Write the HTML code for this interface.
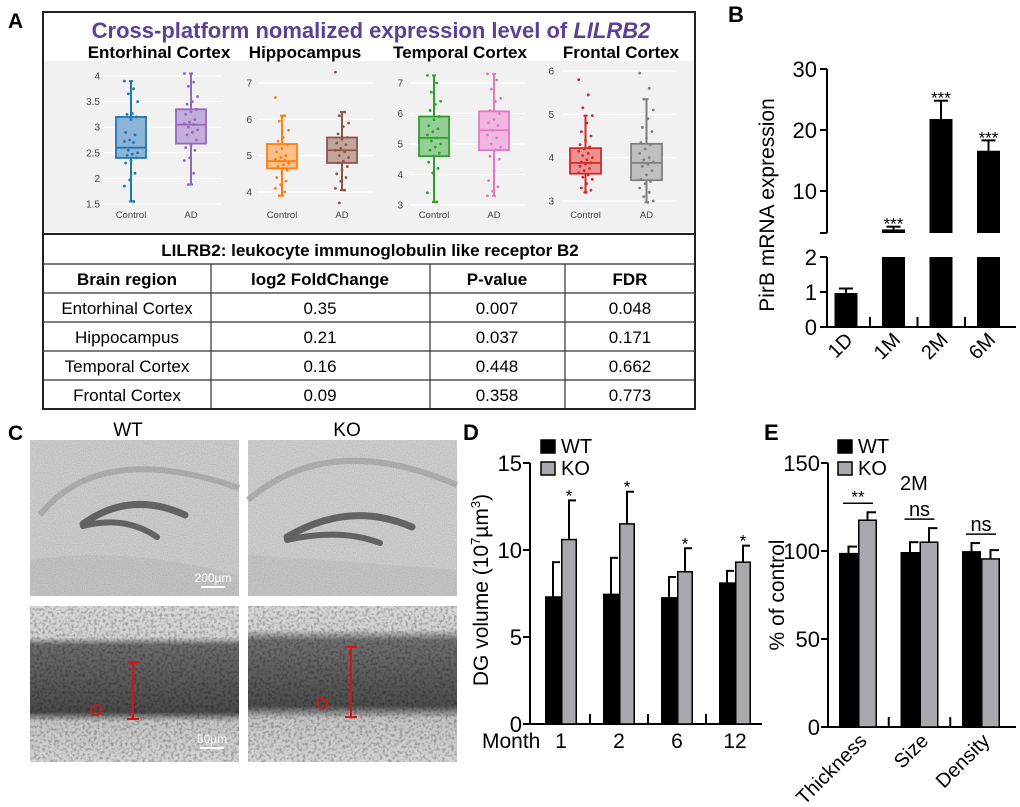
<!DOCTYPE html>
<html><head><meta charset="utf-8">
<style>
html,body{margin:0;padding:0;background:#fff;}
svg{display:block;font-family:"Liberation Sans",Arial,sans-serif;}
</style></head>
<body>
<svg id="fig" width="1020" height="807" viewBox="0 0 1020 807" xmlns="http://www.w3.org/2000/svg">
<defs>
  <filter id="grain" x="0" y="0" width="100%" height="100%">
    <feTurbulence type="fractalNoise" baseFrequency="0.9" numOctaves="2" seed="3"/>
    <feColorMatrix type="matrix" values="0 0 0 0 0  0 0 0 0 0  0 0 0 0 0  0 0 0 -1.6 1.0"/>
  </filter>
  <filter id="cells" x="0" y="0" width="100%" height="100%">
    <feTurbulence type="fractalNoise" baseFrequency="0.35" numOctaves="2" seed="7"/>
    <feColorMatrix type="matrix" values="0 0 0 0 0  0 0 0 0 0  0 0 0 0 0  0 0 0 -3 1.7"/>
  </filter>
  <linearGradient id="bandWT" x1="0" y1="0" x2="0" y2="1">
    <stop offset="0" stop-color="#d8d8d8"/><stop offset="0.2" stop-color="#d2d2d2"/>
    <stop offset="0.25" stop-color="#6a6a6a"/><stop offset="0.68" stop-color="#4a4a4a"/>
    <stop offset="0.74" stop-color="#c4c4c4"/><stop offset="1" stop-color="#d4d4d4"/>
  </linearGradient>
  <linearGradient id="bandKO" x1="0" y1="0" x2="0" y2="1">
    <stop offset="0" stop-color="#d8d8d8"/><stop offset="0.15" stop-color="#d2d2d2"/>
    <stop offset="0.22" stop-color="#6e6e6e"/><stop offset="0.64" stop-color="#4c4c4c"/>
    <stop offset="0.72" stop-color="#c4c4c4"/><stop offset="1" stop-color="#d4d4d4"/>
  </linearGradient>
</defs>

<!-- Panel A -->
<text x="8" y="28" font-size="21" font-weight="bold">A</text>
<g>
  <rect x="43" y="12" width="652" height="397" fill="#fff" stroke="#222" stroke-width="2"/>
  <rect x="44" y="61" width="650" height="171" fill="#f1f1f1"/>
  <line x1="43" y1="234" x2="695" y2="234" stroke="#222" stroke-width="2"/>
  <text x="371" y="38" font-size="22" font-weight="bold" fill="#5e3f93" text-anchor="middle">Cross-platform nomalized expression level of <tspan font-style="italic">LILRB2</tspan></text>
  <g id="boxplots"></g>
  <g font-size="17">
    <text x="370" y="256" text-anchor="middle" font-weight="bold">LILRB2: leukocyte immunoglobulin like receptor B2</text>
    <line x1="43" y1="264" x2="695" y2="264" stroke="#333" stroke-width="1.2"/>
    <line x1="43" y1="293" x2="695" y2="293" stroke="#333" stroke-width="1.2"/>
    <line x1="43" y1="322" x2="695" y2="322" stroke="#333" stroke-width="1.2"/>
    <line x1="43" y1="351" x2="695" y2="351" stroke="#333" stroke-width="1.2"/>
    <line x1="43" y1="380" x2="695" y2="380" stroke="#333" stroke-width="1.2"/>
    <line x1="211" y1="264" x2="211" y2="409" stroke="#333" stroke-width="1.2"/>
    <line x1="430" y1="264" x2="430" y2="409" stroke="#333" stroke-width="1.2"/>
    <line x1="565" y1="264" x2="565" y2="409" stroke="#333" stroke-width="1.2"/>
    <g font-weight="bold" text-anchor="middle">
      <text x="127" y="285">Brain region</text>
      <text x="320" y="285">log2 FoldChange</text>
      <text x="497" y="285">P-value</text>
      <text x="630" y="285">FDR</text>
    </g>
    <g text-anchor="middle">
      <text x="127" y="314">Entorhinal Cortex</text><text x="320" y="314">0.35</text><text x="497" y="314">0.007</text><text x="630" y="314">0.048</text>
      <text x="127" y="343">Hippocampus</text><text x="320" y="343">0.21</text><text x="497" y="343">0.037</text><text x="630" y="343">0.171</text>
      <text x="127" y="372">Temporal Cortex</text><text x="320" y="372">0.16</text><text x="497" y="372">0.448</text><text x="630" y="372">0.662</text>
      <text x="127" y="401">Frontal Cortex</text><text x="320" y="401">0.09</text><text x="497" y="401">0.358</text><text x="630" y="401">0.773</text>
    </g>
  </g>
</g>

<!-- Panel B -->
<text x="728" y="22" font-size="22" font-weight="bold">B</text>
<g id="panelB"></g>

<!-- Panel C -->
<text x="8" y="440" font-size="21" font-weight="bold">C</text>
<g>
  <text x="128" y="436" font-size="19" text-anchor="middle">WT</text>
  <text x="347" y="436" font-size="19" text-anchor="middle">KO</text>
  <g>
    <rect x="30" y="440" width="209" height="156" fill="#cdcdcd"/>
    <path d="M30,560 Q120,545 239,575 L239,596 L30,596Z" fill="#c4c4c4"/>
    <path d="M40,515 Q100,440 239,488" fill="none" stroke="#afafaf" stroke-width="6"/>
    <path d="M83,524 Q130,490 185,515" fill="none" stroke="#666" stroke-width="7" stroke-linecap="round"/>
    <path d="M83,526 Q125,515 157,537" fill="none" stroke="#666" stroke-width="6" stroke-linecap="round"/>
    <rect x="30" y="440" width="209" height="156" filter="url(#grain)" opacity="0.15"/>
    <text x="213" y="582" font-size="12" fill="#fff" text-anchor="middle">200µm</text>
    <line x1="201" y1="587" x2="225" y2="587" stroke="#fff" stroke-width="2"/>
  </g>
  <g>
    <rect x="248" y="440" width="209" height="156" fill="#cecece"/>
    <path d="M248,555 Q330,560 457,570 L457,596 L248,596Z" fill="#c6c6c6"/>
    <path d="M248,500 Q330,430 457,485" fill="none" stroke="#b0b0b0" stroke-width="6"/>
    <path d="M287,537 Q350,500 412,527" fill="none" stroke="#666" stroke-width="7" stroke-linecap="round"/>
    <path d="M287,540 Q340,528 380,543" fill="none" stroke="#666" stroke-width="6" stroke-linecap="round"/>
    <rect x="248" y="440" width="209" height="156" filter="url(#grain)" opacity="0.15"/>
  </g>
  <g>
    <rect x="30" y="606" width="209" height="156" fill="url(#bandWT)"/>
    <rect x="30" y="606" width="209" height="156" filter="url(#cells)" opacity="0.25"/>
    <line x1="133" y1="662" x2="133" y2="719" stroke="#e01010" stroke-width="2"/>
    <line x1="127" y1="662" x2="139" y2="662" stroke="#e01010" stroke-width="2"/>
    <line x1="127" y1="719" x2="139" y2="719" stroke="#e01010" stroke-width="2"/>
    <circle cx="96" cy="710" r="5" fill="none" stroke="#e01010" stroke-width="1.6"/>
    <text x="212" y="743" font-size="12" fill="#fff" text-anchor="middle">50µm</text>
    <line x1="200" y1="748" x2="224" y2="748" stroke="#fff" stroke-width="2"/>
  </g>
  <g>
    <rect x="248" y="606" width="209" height="156" fill="url(#bandKO)"/>
    <rect x="248" y="606" width="209" height="156" filter="url(#cells)" opacity="0.25"/>
    <line x1="351" y1="647" x2="351" y2="717" stroke="#e01010" stroke-width="2"/>
    <line x1="345" y1="647" x2="357" y2="647" stroke="#e01010" stroke-width="2"/>
    <line x1="345" y1="717" x2="357" y2="717" stroke="#e01010" stroke-width="2"/>
    <circle cx="322" cy="703" r="5" fill="none" stroke="#e01010" stroke-width="1.6"/>
  </g>
</g>

<!-- Panel D -->
<text x="463" y="440" font-size="22" font-weight="bold">D</text>
<g id="panelD"></g>
<!-- Panel E -->
<text x="764" y="440" font-size="22" font-weight="bold">E</text>
<g id="panelE"></g>

<script>
// ===== Panel A data =====
const regionNames = ["Entorhinal Cortex","Hippocampus","Temporal Cortex","Frontal Cortex"];
const groupNames = ["Control","AD"];
// [whiskerLow, q1, median, q3, whiskerHigh]
const entStats = [[1.55,2.4,2.6,3.2,3.9],[1.88,2.68,3.05,3.35,4.05]];
const hipStats = [[3.9,4.65,4.85,5.32,6.1],[4.05,4.8,5.15,5.5,6.2]];
const temStats = [[3.1,4.6,5.2,5.9,7.25],[3.3,4.8,5.45,6.07,7.3]];
const froStats = [[3.2,3.63,3.88,4.22,4.97],[2.97,3.48,3.88,4.32,5.35]];
const entPts = [[3.9,3.75,3.65,3.5,3.27,3.25,3.2,3.15,2.9,2.85,2.75,2.72,2.7,2.55,2.5,2.47,2.45,2.4,2.35,2.3,2.1,1.97,1.85,1.55],
                [4.05,3.88,3.8,3.6,3.5,3.45,3.35,3.3,3.25,3.15,3.1,3.07,3.05,3.0,2.95,2.9,2.85,2.75,2.65,2.6,2.55,2.4,2.35,2.1,1.88]];
const hipPts = [[6.6,6.1,5.95,5.7,5.5,5.4,5.3,5.2,5.1,5.0,4.95,4.9,4.87,4.85,4.8,4.75,4.7,4.6,4.5,4.4,4.3,4.2,4.1,4.0,3.9],
                [7.3,6.2,6.1,5.9,5.8,5.6,5.5,5.45,5.35,5.3,5.2,5.15,5.1,5.0,4.95,4.85,4.8,4.7,4.6,4.5,4.4,4.3,4.1,4.05,3.7]];
const temPts = [[7.25,7.0,6.7,6.4,6.3,6.1,5.9,5.8,5.6,5.5,5.4,5.3,5.2,5.1,5.0,4.9,4.8,4.7,4.6,4.4,4.2,4.05,3.4,3.1],
                [7.3,7.1,6.8,6.5,6.4,6.1,6.0,5.8,5.7,5.6,5.45,5.3,5.2,5.0,4.9,4.8,4.6,4.5,4.1,3.8,3.6,3.45,3.3]];
const froPts = [[5.8,5.45,5.15,4.97,4.8,4.6,4.5,4.4,4.3,4.25,4.2,4.15,4.1,4.05,4.0,3.95,3.9,3.88,3.85,3.8,3.75,3.7,3.65,3.6,3.55,3.5,3.4,3.3,3.25,3.2],
                [5.95,5.6,5.35,5.1,4.9,4.7,4.6,4.45,4.35,4.3,4.2,4.1,4.0,3.95,3.9,3.85,3.8,3.7,3.6,3.5,3.45,3.4,3.3,3.2,3.1,3.0,2.97]];
const entTicks = [1.5,2,2.5,3,3.5,4];
const hipTicks = [4,5,6,7];
const temTicks = [3,4,5,6,7];
const froTicks = [3,4,5,6];

// ===== Panel B data =====
const bCats = ["1D","1M","2M","6M"];
const bValues = [0.97,3.7,21.8,16.6];
const bErrors = [0.13,0.45,3.0,1.7];
const bStars = ["","***","***","***"];
const bTicksUpper = [10,20,30];
const bTicksLower = [0,1,2];

// ===== Panel D data =====
const dCats = ["1","2","6","12"];
const dWT = [7.3,7.45,7.25,8.1];
const dWTerr = [2.0,2.1,1.2,0.7];
const dKO = [10.6,11.5,8.75,9.3];
const dKOerr = [2.25,1.85,1.35,0.95];
const dStars = ["*","*","*","*"];
const dTicks = [0,5,10,15];

// ===== Panel E data =====
const eCats = ["Thickness","Size","Density"];
const eWT = [98.5,99,99.5];
const eWTerr = [4,6,5];
const eKO = [117.5,105,95.5];
const eKOerr = [4.5,8,5];
const eSig = ["**","ns","ns"];
const eTicks = [0,50,100,150];

const NS = "http://www.w3.org/2000/svg";
function mk(parent, tag, attrs, text){
  const el = document.createElementNS(NS, tag);
  for (const k in attrs) el.setAttribute(k, attrs[k]);
  if (text !== undefined) el.textContent = text;
  parent.appendChild(el);
  return el;
}

// ===== Panel A drawing =====
const boxRoot = document.getElementById('boxplots');
const subplotDefs = [
  {stats: entStats, pts: entPts, ticks: entTicks, vmin: 1.5, vmax: 4, y0: 204, y1: 76, lab: 100, gx0: 103, gx1: 222, bx: [116,176], bw: 30, tx: 159, cols: ["#1f77b4","#9467bd"], fills:["#8db4d6","#c3aedb"]},
  {stats: hipStats, pts: hipPts, ticks: hipTicks, vmin: 4, vmax: 7, y0: 192, y1: 83, lab: 252, gx0: 258, gx1: 373, bx: [267,327], bw: 30, tx: 305, cols: ["#ff7f0e","#8c564b"], fills:["#ffbf8a","#c4a59e"]},
  {stats: temStats, pts: temPts, ticks: temTicks, vmin: 3, vmax: 7, y0: 205, y1: 83, lab: 403, gx0: 410, gx1: 525, bx: [419,479], bw: 30, tx: 460, cols: ["#2ca02c","#e377c2"], fills:["#95cf95","#f0b8e0"]},
  {stats: froStats, pts: froPts, ticks: froTicks, vmin: 3, vmax: 6, y0: 201, y1: 71, lab: 554, gx0: 563, gx1: 676, bx: [570,631], bw: 31, tx: 621, cols: ["#d62728","#7f7f7f"], fills:["#e99393","#bfbfbf"]}
];
subplotDefs.forEach((sp, si) => {
  const g = mk(boxRoot, 'g', {});
  
  
  const y = v => sp.y0 + (v - sp.vmin) * (sp.y1 - sp.y0) / (sp.vmax - sp.vmin);
  const t = mk(g, 'text', {x: sp.tx, y: 58, 'font-size': 17, 'font-weight': 'bold', 'text-anchor': 'middle'}, regionNames[si]);
  
  
  sp.ticks.forEach(tv => {
    mk(g, 'line', {x1: sp.gx0, x2: sp.gx1, y1: y(tv), y2: y(tv), stroke: '#fff', 'stroke-width': 1.3});
    const tl = mk(g, 'text', {x: sp.lab, y: y(tv) + 3.5, 'font-size': 10, fill: '#444', 'text-anchor': 'end'}, String(tv));
    
    
  });
  sp.stats.forEach((s, gi) => {
    const x0 = sp.bx[gi], cx = x0 + sp.bw / 2, col = sp.cols[gi];
    mk(g, 'line', {x1: cx, x2: cx, y1: y(s[0]), y2: y(s[4]), stroke: col, 'stroke-width': 2});
    mk(g, 'line', {x1: cx-2, x2: cx+2, y1: y(s[0]), y2: y(s[0]), stroke: col, 'stroke-width': 2});
    mk(g, 'line', {x1: cx-2, x2: cx+2, y1: y(s[4]), y2: y(s[4]), stroke: col, 'stroke-width': 2});
    const box = mk(g, 'rect', {x: x0, y: y(s[3]), width: sp.bw, height: y(s[1]) - y(s[3]), fill: sp.fills[gi], stroke: col, 'stroke-width': 1.8});
    
    
    mk(g, 'line', {x1: x0, x2: x0 + sp.bw, y1: y(s[2]), y2: y(s[2]), stroke: col, 'stroke-width': 1.8});
    sp.pts[gi].forEach((v, i) => {
      const off = (((i * 7) % 11) - 5) / 5 * sp.bw * 0.22;
      const p = mk(g, 'circle', {cx: cx + off, cy: y(v), r: 1.4, fill: col});
      
      
    });
    const gl = mk(g, 'text', {x: cx, y: 218, 'font-size': 9.5, fill: '#444', 'text-anchor': 'middle'}, groupNames[gi]);
    
    
  });
});

// ===== Panel B drawing =====
(function(){
  const g = document.getElementById('panelB');
  const ax = 827, yBase = 327;
  const yLow = v => 327 - v * 35;
  const yUp = v => 191 - (v - 10) * 6.1;
  const upBottom = 233;
  const xs = i => 846 + i * 47.5;
  const bw = 23;
  mk(g, 'line', {x1: ax, x2: ax, y1: 69, y2: upBottom, stroke: '#000', 'stroke-width': 2});
  mk(g, 'line', {x1: ax - 7, x2: ax, y1: upBottom, y2: upBottom, stroke: '#000', 'stroke-width': 2});
  mk(g, 'line', {x1: ax, x2: ax, y1: 257, y2: yBase, stroke: '#000', 'stroke-width': 2});
  mk(g, 'line', {x1: ax, x2: 1016, y1: yBase, y2: yBase, stroke: '#000', 'stroke-width': 2});
  bTicksUpper.forEach(t => {
    mk(g, 'line', {x1: ax - 7, x2: ax, y1: yUp(t), y2: yUp(t), stroke: '#000', 'stroke-width': 2});
    const l = mk(g, 'text', {x: ax - 10, y: yUp(t) + 8, 'font-size': 22, 'text-anchor': 'end'}, String(t));
    
    
  });
  bTicksLower.forEach(t => {
    mk(g, 'line', {x1: ax - 7, x2: ax, y1: yLow(t), y2: yLow(t), stroke: '#000', 'stroke-width': 2});
    const l = mk(g, 'text', {x: ax - 10, y: yLow(t) + 8, 'font-size': 22, 'text-anchor': 'end'}, String(t));
    
    
  });
  bCats.forEach((c, i) => {
    const cx = xs(i), v = bValues[i];
    if (i > 0) mk(g, 'line', {x1: cx - 23.5, x2: cx - 23.5, y1: yBase - 10, y2: yBase, stroke: '#000', 'stroke-width': 2});
    if (v <= 2) {
      const top = yLow(v);
      const b = mk(g, 'rect', {x: cx - bw/2, y: top, width: bw, height: yBase - top, fill: '#000'});
      
      
      const et = yLow(v + bErrors[i]);
      mk(g, 'line', {x1: cx, x2: cx, y1: et, y2: top, stroke: '#000', 'stroke-width': 2});
      mk(g, 'line', {x1: cx - 7, x2: cx + 7, y1: et, y2: et, stroke: '#000', 'stroke-width': 2});
    } else {
      const b = mk(g, 'rect', {x: cx - bw/2, y: yLow(2), width: bw, height: yBase - yLow(2), fill: '#000'});
      
      
      const top = yUp(v);
      const b2 = mk(g, 'rect', {x: cx - bw/2, y: top, width: bw, height: Math.max(2, upBottom - top), fill: '#000'});
      
      
      const et = yUp(v + bErrors[i]);
      mk(g, 'line', {x1: cx, x2: cx, y1: et, y2: top, stroke: '#000', 'stroke-width': 2});
      mk(g, 'line', {x1: cx - 7, x2: cx + 7, y1: et, y2: et, stroke: '#000', 'stroke-width': 2});
      const s = mk(g, 'text', {x: cx, y: et + 3, 'font-size': 17, 'text-anchor': 'middle'}, bStars[i]);
      
      
    }
    const xl = mk(g, 'text', {x: cx + 8, y: 341, 'font-size': 20, 'text-anchor': 'end', transform: `rotate(-45 ${cx + 8} 341)`}, c);
    
    
  });
  const yl = mk(g, 'text', {x: 774, y: 205, 'font-size': 21, 'text-anchor': 'middle', transform: 'rotate(-90 774 205)'}, 'PirB mRNA expression');
  
  
})();

// ===== grouped bar helper for D & E =====
function groupedBars(g, o){
  const y = v => o.y0 - v * (o.y0 - o.yTop) / o.vmax;
  mk(g, 'line', {x1: o.ax, x2: o.ax, y1: o.yTop, y2: o.y0, stroke: '#000', 'stroke-width': 2});
  mk(g, 'line', {x1: o.ax, x2: o.axEnd, y1: o.y0, y2: o.y0, stroke: '#000', 'stroke-width': 2});
  o.ticks.forEach(t => {
    mk(g, 'line', {x1: o.ax - 7, x2: o.ax, y1: y(t), y2: y(t), stroke: '#000', 'stroke-width': 2});
    const l = mk(g, 'text', {x: o.ax - 8, y: y(t) + 8, 'font-size': 22, 'text-anchor': 'end'}, String(t));
    
    
  });
  o.cats.forEach((c, i) => {
    const cx = o.c0 + i * o.step;
    if (i > 0) mk(g, 'line', {x1: cx - o.step/2, x2: cx - o.step/2, y1: o.y0 - 10, y2: o.y0, stroke: '#000', 'stroke-width': 2});
    const series = [[o.wt[i], o.wtErr[i], '#000', 'wt'], [o.ko[i], o.koErr[i], '#a9a9ad', 'ko']];
    series.forEach((s, k) => {
      const x0 = k === 0 ? cx - o.bw : cx;
      const top = y(s[0]);
      const et = y(s[0] + s[1]);
      mk(g, 'line', {x1: x0 + o.bw/2, x2: x0 + o.bw/2, y1: et, y2: top, stroke: '#000', 'stroke-width': 2});
      mk(g, 'line', {x1: x0 + o.bw/2 - 1, x2: x0 + o.bw - 1, y1: et, y2: et, stroke: '#000', 'stroke-width': 2});
      const b = mk(g, 'rect', {x: x0 + 0.75, y: top, width: o.bw - 1.5, height: o.y0 - top, fill: s[2], stroke: '#000', 'stroke-width': 1.5});
      
      
    });
    o.label(cx, c, i);
    o.sig(cx, i, y);
  });
  const legendItems = [['WT', '#000', o.legY], ['KO', '#a9a9ad', o.legY + 22]];
  legendItems.forEach(li => {
    const r = mk(g, 'rect', {x: o.legX, y: li[2], width: 14, height: 13, fill: li[1], stroke: '#000', 'stroke-width': 1.5});
    
    
    const t = mk(g, 'text', {x: o.legX + 20, y: li[2] + 13, 'font-size': 20}, li[0]);
    
    
  });
}

// ===== Panel D drawing =====
(function(){
  const g = document.getElementById('panelD');
  groupedBars(g, {ax: 530, axEnd: 762, y0: 724, yTop: 463, vmax: 15, ticks: dTicks, cats: dCats,
    wt: dWT, wtErr: dWTerr, ko: dKO, koErr: dKOerr, c0: 561, step: 58, bw: 16, legX: 541, legY: 440,
    label: (cx, c) => {
      const t = mk(g, 'text', {x: cx, y: 748, 'font-size': 21, 'text-anchor': 'middle'}, c);
      
      
    },
    sig: (cx, i, y) => {
      const t = mk(g, 'text', {x: cx + 8, y: y(dKO[i] + dKOerr[i]) + 1, 'font-size': 17, 'text-anchor': 'middle'}, dStars[i]);
      
      
    }});
  const m = mk(g, 'text', {x: 482, y: 748, 'font-size': 21}, 'Month');
  
  
  const yl = mk(g, 'text', {x: 488, y: 590, 'font-size': 21, 'text-anchor': 'middle', transform: 'rotate(-90 488 590)'});
  
  
  mk(yl, 'tspan', {}, 'DG volume (10');
  mk(yl, 'tspan', {'font-size': 13, dy: -8}, '7');
  mk(yl, 'tspan', {dy: 8}, 'µm');
  mk(yl, 'tspan', {'font-size': 13, dy: -8}, '3');
  mk(yl, 'tspan', {dy: 8}, ')');
})();

// ===== Panel E drawing =====
(function(){
  const g = document.getElementById('panelE');
  groupedBars(g, {ax: 828, axEnd: 1016, y0: 727, yTop: 463, vmax: 150, ticks: eTicks, cats: eCats,
    wt: eWT, wtErr: eWTerr, ko: eKO, koErr: eKOerr, c0: 858, step: 61.5, bw: 19, legX: 838, legY: 440,
    label: (cx, c) => {
      const t = mk(g, 'text', {x: cx + 10, y: 742, 'font-size': 20, 'text-anchor': 'end', transform: `rotate(-45 ${cx + 10} 742)`}, c);
      
      
    },
    sig: (cx, i, y) => {
      const top = Math.min(y(eWT[i] + eWTerr[i]), y(eKO[i] + eKOerr[i]));
      const ly = top - 9;
      mk(g, 'line', {x1: cx - 15, x2: cx + 15, y1: ly, y2: ly, stroke: '#000', 'stroke-width': 1.5});
      const isStar = eSig[i].indexOf('*') >= 0;
      const t = mk(g, 'text', {x: cx, y: isStar ? ly - 1 : ly - 3, 'font-size': isStar ? 17 : 20, 'text-anchor': 'middle'}, eSig[i]);
      
      
    }});
  const m = mk(g, 'text', {x: 900, y: 490, 'font-size': 20}, '2M');
  
  
  const yl = mk(g, 'text', {x: 784, y: 595, 'font-size': 21, 'text-anchor': 'middle', transform: 'rotate(-90 784 595)'}, '% of control');
  
  
})();
</script>
</svg>
</body></html>
